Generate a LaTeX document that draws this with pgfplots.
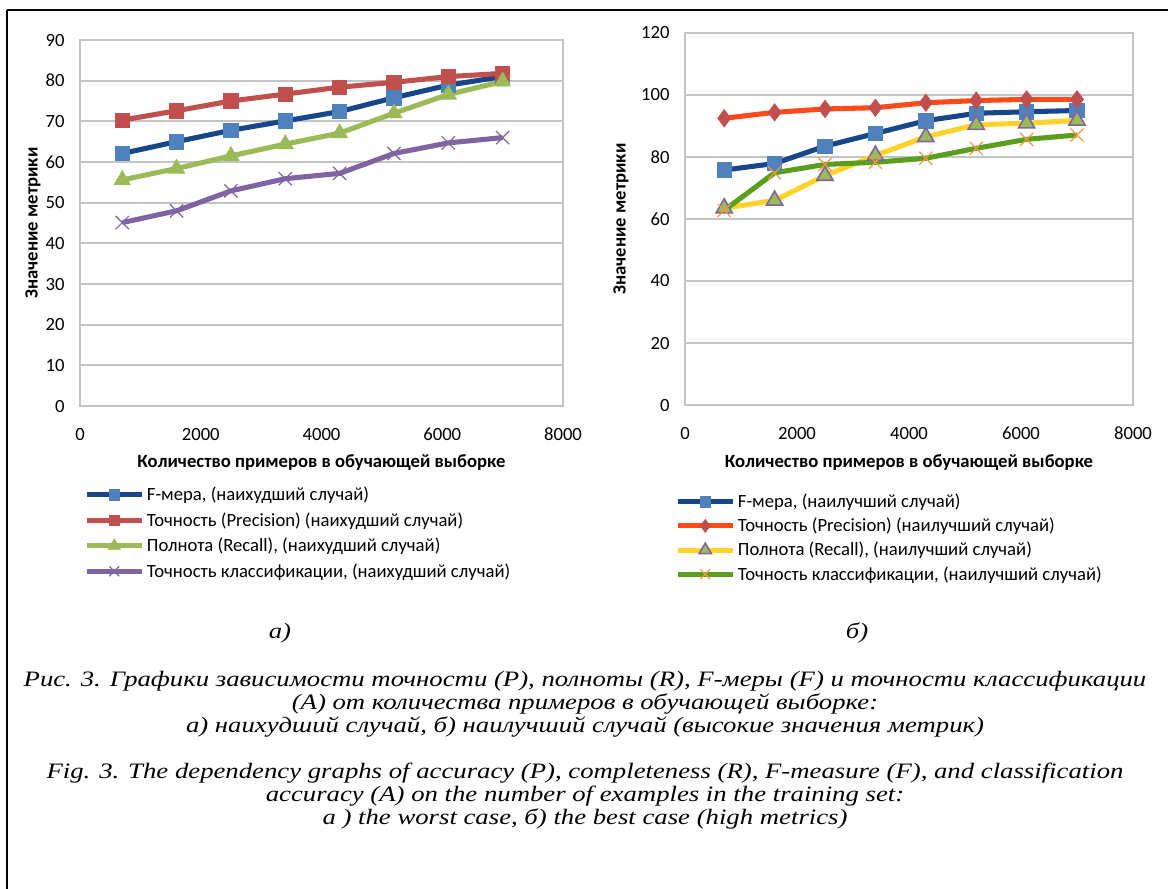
\documentclass[border=0pt]{standalone}
\usepackage{fontspec}
\usepackage{graphicx}
\usepackage{pgfplots}
\pgfplotsset{compat=1.18}
\setmainfont{Carlito}
\newfontfamily\capfont{Liberation Serif}
\definecolor{fblue}{HTML}{17468A}
\definecolor{fbluem}{HTML}{4F81BD}
\definecolor{pred}{HTML}{C0504D}
\definecolor{rgreen}{HTML}{9BBB59}
\definecolor{apurp}{HTML}{8064A2}
\definecolor{porange}{HTML}{FF4A1A}
\definecolor{ryellow}{HTML}{FFD32A}
\definecolor{agreen}{HTML}{5A9E1E}
\definecolor{xorange}{HTML}{F79646}
\definecolor{gridgray}{HTML}{C4C4C4}
\newcommand{\capstr}[1]{\scalebox{1.215}[1]{#1}}

\pgfplotsset{
  mystyle/.style={
    scale only axis,
    anchor=south west,
    xmin=0, xmax=8000,
    xtick={0,2000,4000,6000,8000},
    ymin=0,
    /pgf/number format/assume math mode=true,
    /pgf/number format/set thousands separator={},
    scaled x ticks=false,
    axis line style={gridgray, line width=1.8pt},
    ymajorgrids,
    grid style={gridgray, line width=1.6pt},
    major tick length=0pt,
    tick label style={font=\fontsize{14}{16}\selectfont},
    xticklabel style={yshift=-13pt},
    yticklabel style={xshift=-8pt},
    label style={font=\bfseries\fontsize{14}{16}\selectfont},
    legend style={draw=none, fill=none, anchor=north west, inner sep=0pt,
      font=\fontsize{14}{16}\selectfont, row sep=3.4pt,
      nodes={inner xsep=2pt}},
    legend cell align=left,
    legend image code/.code={
      \draw[mark repeat=2,mark phase=2, every mark/.append style={scale=0.75}]
      plot coordinates {(0pt,0pt) (20.6pt,0pt) (41.2pt,0pt)};
    },
    every axis plot/.append style={line width=3.8pt},
  }
}

\begin{document}
\begin{tikzpicture}[x=0.75pt,y=-0.75pt]
\useasboundingbox (0,0) rectangle (1168,889);
\draw[line width=1.4pt] (7,10) -- (1168,10);
\draw[line width=1.4pt] (7,10) -- (7,889);

% Left chart (worst case)
\begin{axis}[mystyle,
  at={(60pt,-304.5pt)},
  width=362.25pt, height=274.5pt,
  ymax=90, ytick={0,10,...,90},
  xlabel={Количество примеров в обучающей выборке},
  ylabel={Значение метрики},
  xlabel style={at={(axis description cs:0.5,-0.155)}, anchor=center},
  ylabel style={at={(axis description cs:-0.0973,0.5)}, anchor=center},
  legend style={at={(axis description cs:0.0083,-0.213)}},
]
\addplot[fblue, mark=square*, mark size=5.4pt, mark options={fill=fbluem, draw=fbluem, line width=0.5pt}]
  coordinates {(700,62.1) (1600,65) (2500,67.8) (3400,70.1) (4300,72.4) (5200,75.8) (6100,78.9) (7000,81)};
\addlegendentry{F-мера, (наихудший случай)}
\addplot[pred, mark=square*, mark size=5.4pt, mark options={fill=pred, draw=pred, line width=0.5pt}]
  coordinates {(700,70.3) (1600,72.6) (2500,75) (3400,76.7) (4300,78.4) (5200,79.6) (6100,81) (7000,81.8)};
\addlegendentry{Точность (Precision) (наихудший случай)}
\addplot[rgreen, mark=triangle*, mark size=7pt, mark options={fill=rgreen, draw=rgreen, line width=0.5pt}]
  coordinates {(700,55.6) (1600,58.4) (2500,61.5) (3400,64.4) (4300,67.1) (5200,72) (6100,76.6) (7000,79.8)};
\addlegendentry{Полнота (Recall), (наихудший случай)}
\addplot[apurp, mark=x, mark size=7pt, mark options={draw=apurp, line width=0.9pt}]
  coordinates {(700,45.1) (1600,48) (2500,52.9) (3400,55.9) (4300,57.2) (5200,62.1) (6100,64.7) (7000,66)};
\addlegendentry{Точность классификации, (наихудший случай)}
\end{axis}

% Right chart (best case)
\begin{axis}[mystyle,
  at={(513.75pt,-303.75pt)},
  width=336pt, height=279pt,
  ymax=120, ytick={0,20,...,120},
  xlabel={Количество примеров в обучающей выборке},
  ylabel={Значение метрики},
  xlabel style={at={(axis description cs:0.5,-0.1555)}, anchor=center},
  ylabel style={at={(axis description cs:-0.143,0.5)}, anchor=center},
  legend style={at={(axis description cs:-0.0223,-0.231)}, row sep=2.4pt},
]
\addplot[fblue, mark=square*, mark size=5.4pt, mark options={fill=fbluem, draw=fbluem, line width=0.5pt}]
  coordinates {(700,75.8) (1600,77.9) (2500,83.5) (3400,87.6) (4300,91.7) (5200,94.1) (6100,94.6) (7000,95)};
\addlegendentry{F-мера, (наилучший случай)}
\addplot[porange, mark=diamond*, mark size=6.5pt, mark options={fill=pred, draw=pred, line width=0.5pt}]
  coordinates {(700,92.5) (1600,94.4) (2500,95.5) (3400,95.9) (4300,97.5) (5200,98.2) (6100,98.6) (7000,98.6)};
\addlegendentry{Точность (Precision) (наилучший случай)}
\addplot[ryellow, mark=triangle*, mark size=7pt, mark options={fill=rgreen, draw=apurp, line width=1.2pt}]
  coordinates {(700,63.5) (1600,66) (2500,74) (3400,80.5) (4300,86.5) (5200,90.4) (6100,90.9) (7000,91.8)};
\addlegendentry{Полнота (Recall), (наилучший случай)}
\addplot[agreen, mark=x, mark size=7pt, mark options={draw=xorange, line width=0.9pt}]
  coordinates {(700,62.8) (1600,74.9) (2500,77.6) (3400,78.3) (4300,79.6) (5200,82.8) (6100,85.7) (7000,87.1)};
\addlegendentry{Точность классификации, (наилучший случай)}
\end{axis}

% Captions
\begin{scope}[every node/.style={font=\capfont\itshape\fontsize{16.5}{19}\selectfont, inner sep=0pt, anchor=base}]
\node at (280,638) {\capstr{а)}};
\node at (857,638) {\capstr{б)}};
\node at (585,686) {\capstr{Рис. 3. Графики зависимости точности (P), полноты (R), F-меры (F) и точности классификации}};
\node at (585,709) {\capstr{(A) от количества примеров в обучающей выборке:}};
\node at (585,732) {\capstr{а) наихудший случай, б) наилучший случай (высокие значения метрик)}};
\node at (585,778) {\capstr{Fig. 3. The dependency graphs of accuracy (P), completeness (R), F-measure (F), and classification}};
\node at (585,801) {\capstr{accuracy (A) on the number of examples in the training set:}};
\node at (585,824) {\capstr{a ) the worst case, б) the best case (high metrics)}};
\end{scope}
\end{tikzpicture}
\end{document}
